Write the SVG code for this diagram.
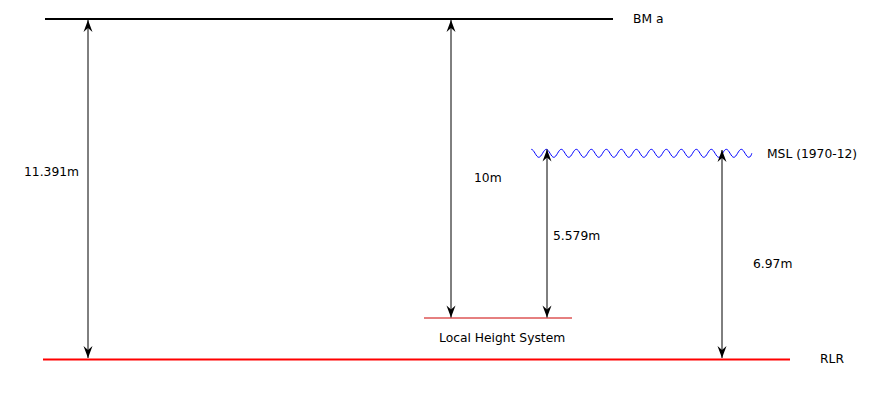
<svg xmlns="http://www.w3.org/2000/svg" width="875" height="400" viewBox="0 0 875 400">
<style>
text{font-family:"DejaVu Sans",sans-serif;font-size:12.3px;fill:#000}
.dim{stroke:#000;stroke-width:1;fill:none;marker-start:url(#ah);marker-end:url(#ah)}
</style>
<defs>
<marker id="ah" viewBox="-13 -5 14 10" markerWidth="14" markerHeight="10" refX="0" refY="0" orient="auto-start-reverse" markerUnits="userSpaceOnUse">
<path d="M0,0 L-12,-4.5 L-8,0 L-12,4.5 Z" fill="#000"/>
</marker>
</defs>
<rect width="875" height="400" fill="#fff"/>
<g id="bm">
<line x1="45" y1="19" x2="613" y2="19" stroke="#000" stroke-width="2"/>
<text x="633" y="23">BM a</text>
</g>
<g id="msl">
<path d="M531.3,149.3 c2.73,0 4.77,8 7.5,8 s4.77,-8 7.5,-8 s4.77,8 7.5,8 s4.77,-8 7.5,-8 s4.77,8 7.5,8 s4.77,-8 7.5,-8 s4.77,8 7.5,8 s4.77,-8 7.5,-8 s4.77,8 7.5,8 s4.77,-8 7.5,-8 s4.77,8 7.5,8 s4.77,-8 7.5,-8 s4.77,8 7.5,8 s4.77,-8 7.5,-8 s4.77,8 7.5,8 s4.77,-8 7.5,-8 s4.77,8 7.5,8 s4.77,-8 7.5,-8 s4.77,8 7.5,8 s4.77,-8 7.5,-8 s4.77,8 7.5,8 s4.77,-8 7.5,-8 s4.77,8 7.5,8 s4.77,-8 7.5,-8 s4.77,8 7.5,8 s4.77,-8 7.5,-8 s4.77,8 7.5,8 s4.77,-8 7.5,-8 s4.77,8 7.5,8 c1.5,0 2.5,-2 3,-4" fill="none" stroke="#00f" stroke-width="1"/>
<text x="767" y="158">MSL (1970-12)</text>
</g>
<g id="local">
<line x1="424" y1="318" x2="572" y2="318" stroke="#c00" stroke-width="1"/>
<text x="439" y="342">Local Height System</text>
</g>
<g id="rlr">
<line x1="43" y1="359.5" x2="790" y2="359.5" stroke="#f00" stroke-width="2"/>
<text x="820" y="363">RLR</text>
</g>
<g id="connectors">
<line class="dim" x1="88" y1="20" x2="88" y2="358"/>
<line class="dim" x1="451" y1="20" x2="451" y2="317.5"/>
<line class="dim" x1="547" y1="149.5" x2="547" y2="317.5"/>
<line class="dim" x1="722" y1="150" x2="722" y2="358"/>
</g>
<g id="labels">
<text x="24" y="176">11.391m</text>
<text x="474" y="182">10m</text>
<text x="553" y="240">5.579m</text>
<text x="753" y="268">6.97m</text>
</g>
</svg>
